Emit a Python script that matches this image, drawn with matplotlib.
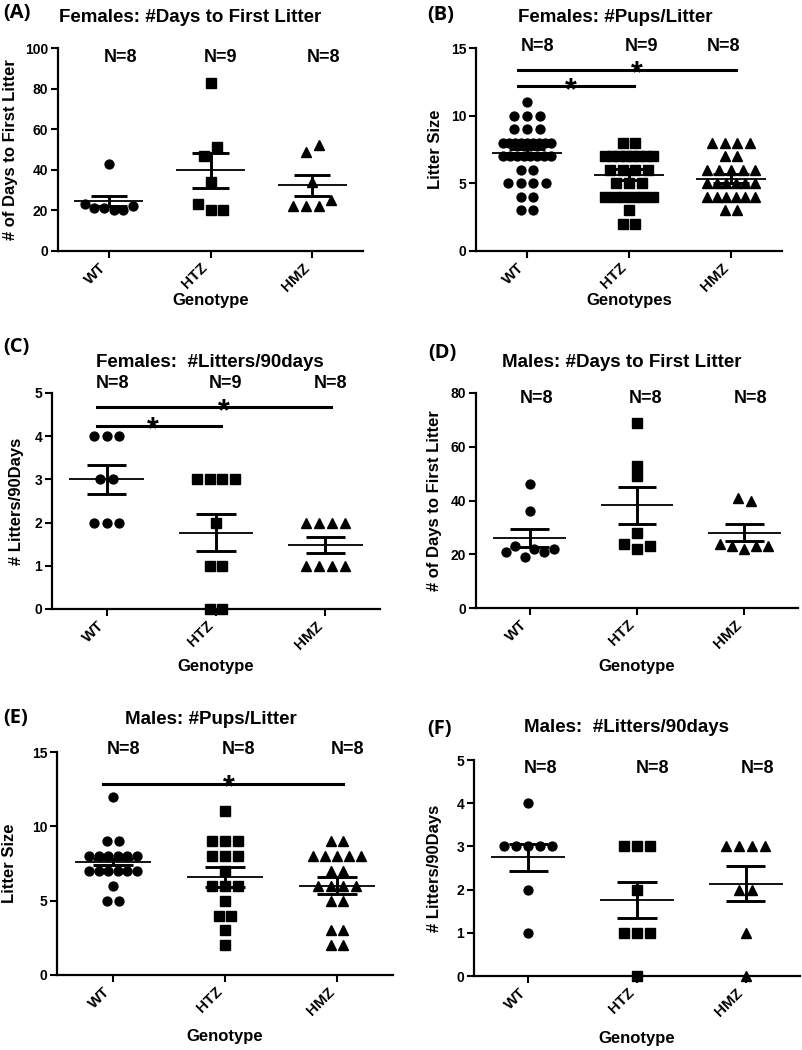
import numpy as np
import matplotlib.pyplot as plt

plt.rcParams['font.family'] = ['Liberation Sans', 'DejaVu Sans']
plt.rcParams['font.weight'] = 'bold'

W_PX, H_PX = 802, 1050
groups = ['WT', 'HTZ', 'HMZ']

# (A) Females: #Days to First Litter
a_wt = [43, 23, 21, 21, 20, 20, 22]
a_htz = [83, 47, 51, 34, 23, 20, 20]
a_hmz = [49, 52, 34, 22, 22, 22, 25]
a_mean = [24.5, 39.7, 32.4]
a_sem = [2.5, 8.6, 5.1]
a_n = [8, 9, 8]

# (B) Females: #Pups/Litter
b_wt = [11, 10, 10, 10, 9, 9, 9, 8, 8, 8, 8, 8, 8, 8, 8, 8,
        7, 7, 7, 7, 7, 7, 7, 7, 6, 6, 5, 5, 5, 5, 4, 4, 3, 3]
b_htz = [8, 8, 7, 7, 7, 7, 7, 7, 7, 7, 6, 6, 6, 6, 5, 5, 5,
         4, 4, 4, 4, 4, 4, 3, 2, 2]
b_hmz = [8, 8, 8, 8, 7, 7, 6, 6, 6, 6, 6, 5, 5, 5, 5, 5, 5,
         4, 4, 4, 4, 4, 4, 3, 3]
b_mean = [7.25, 5.65, 5.35]
b_sem = [0.3, 0.43, 0.33]
b_n = [8, 9, 8]
b_sig = [(0, 1, 12.17, 0.43), (0, 2, 13.37, 1.08)]

# (C) Females: #Litters/90days
c_wt = [4, 4, 4, 3, 3, 2, 2, 2]
c_htz = [3, 3, 3, 3, 2, 1, 1, 0, 0]
c_hmz = [2, 2, 2, 2, 1, 1, 1, 1]
c_mean = [3.0, 1.77, 1.48]
c_sem = [0.33, 0.43, 0.19]
c_n = [8, 9, 8]
c_sig = [(0, 1, 4.24, 0.42), (0, 2, 4.67, 1.07)]

# (D) Males: #Days to First Litter
d_wt = [46, 36, 21, 23, 19, 22, 21, 22]
d_htz = [69, 53, 49, 28, 24, 22, 23]
d_hmz = [41, 40, 24, 23, 22, 23, 23]
d_mean = [26.1, 38.2, 28.0]
d_sem = [3.4, 6.9, 3.2]
d_n = [8, 8, 8]

# (E) Males: #Pups/Litter
e_wt = [12, 9, 9, 8, 8, 8, 8, 8, 8, 7, 7, 7, 7, 7, 7, 6, 5, 5]
e_htz = [11, 9, 9, 9, 8, 8, 8, 7, 6, 6, 6, 5, 4, 4, 3, 2]
e_hmz = [9, 9, 8, 8, 8, 8, 8, 7, 7, 6, 6, 6, 6, 5, 5, 3, 3, 2, 2]
e_mean = [7.6, 6.6, 6.0]
e_sem = [0.22, 0.67, 0.56]
e_n = [8, 8, 8]
e_sig = [(0, 2, 12.86, 1.03)]

# (F) Males: #Litters/90days
f_wt = [4, 3, 3, 3, 3, 3, 2, 1]
f_htz = [3, 3, 3, 2, 1, 1, 1, 0]
f_hmz = [3, 3, 3, 3, 2, 2, 1, 0]
f_mean = [2.75, 1.76, 2.14]
f_sem = [0.31, 0.41, 0.40]
f_n = [8, 8, 8]

panels = [
    dict(tag='(A)', title='Females: #Days to First Litter', ylabel='# of Days to First Litter',
         xlabel='Genotype', data=[a_wt, a_htz, a_hmz], mean=a_mean, sem=a_sem, n=a_n, sig=[],
         yticks=np.arange(0, 101, 20), box=(58, 363, 48, 251), tag_xy=(3, 13), title_xy=(190, 17),
         ylab_x=11, xlab_y=300, n_y=95.5, n_dx=[0.11, 0.10, 0.11]),
    dict(tag='(B)', title='Females: #Pups/Litter', ylabel='Litter Size',
         xlabel='Genotypes', data=[b_wt, b_htz, b_hmz], mean=b_mean, sem=b_sem, n=b_n, sig=b_sig,
         yticks=[0, 5, 10, 15], box=(476, 782, 48, 251), tag_xy=(427, 15), title_xy=(615, 17),
         ylab_x=435, xlab_y=300, n_y=15.1, n_dx=[0.10, 0.12, -0.07]),
    dict(tag='(C)', title='Females:  #Litters/90days', ylabel='# Litters/90Days',
         xlabel='Genotype', data=[c_wt, c_htz, c_hmz], mean=c_mean, sem=c_sem, n=c_n, sig=c_sig,
         yticks=np.arange(0, 6), box=(52, 380, 393, 609), tag_xy=(3, 347), title_xy=(210, 362),
         ylab_x=17, xlab_y=666, n_y=5.23, n_dx=[0.05, 0.09, 0.05]),
    dict(tag='(D)', title='Males: #Days to First Litter', ylabel='# of Days to First Litter',
         xlabel='Genotype', data=[d_wt, d_htz, d_hmz], mean=d_mean, sem=d_sem, n=d_n, sig=[],
         yticks=np.arange(0, 81, 20), box=(476, 798, 393, 608), tag_xy=(428, 353), title_xy=(622, 362),
         ylab_x=435, xlab_y=666, n_y=77.9, n_dx=[0.06, 0.08, 0.06]),
    dict(tag='(E)', title='Males: #Pups/Litter', ylabel='Litter Size',
         xlabel='Genotype', data=[e_wt, e_htz, e_hmz], mean=e_mean, sem=e_sem, n=e_n, sig=e_sig,
         yticks=[0, 5, 10, 15], box=(57, 393, 752, 975), tag_xy=(3, 718), title_xy=(211, 719),
         ylab_x=10, xlab_y=1037, n_y=15.2, n_dx=[0.09, 0.12, 0.09]),
    dict(tag='(F)', title='Males:  #Litters/90days', ylabel='# Litters/90Days',
         xlabel='Genotype', data=[f_wt, f_htz, f_hmz], mean=f_mean, sem=f_sem, n=f_n, sig=[],
         yticks=np.arange(0, 6), box=(474, 800, 760, 976), tag_xy=(427, 729), title_xy=(627, 728),
         ylab_x=435, xlab_y=1038, n_y=4.8, n_dx=[0.11, 0.14, 0.11]),
]

markers = ['o', 's', '^']
msizes = [6.4, 6.8, 6.6]


def fx(px):
    return px / W_PX


def fy(py):
    return 1 - py / H_PX


def swarm(values, center, ax, gap=12.8, width=48, join=10):
    # points closer than `join` px vertically are laid out as one centred row
    x0, x1 = ax.get_xlim()
    y0, y1 = ax.get_ylim()
    pos = ax.get_position()
    sx = pos.width * W_PX / (x1 - x0)
    sy = pos.height * H_PX / (y1 - y0)
    vals = np.asarray(values, float)
    order = np.argsort(-vals, kind='stable')
    rows = []
    for i in order:
        if rows and (vals[rows[-1][-1]] - vals[i]) * sy < join:
            rows[-1].append(i)
        else:
            rows.append([i])
    xs = np.zeros(len(vals))
    for r in rows:
        r = sorted(r)
        n = len(r)
        if n < 2:
            continue
        step = min(gap, width / (n - 1))
        xs[r] = (np.arange(n) - (n - 1) / 2) * step / sx
    return center + xs, vals


fig = plt.figure(figsize=(W_PX / 100, H_PX / 100), dpi=100)

for p in panels:
    l, r, t, b = p['box']
    ax = fig.add_axes([fx(l), fy(b), fx(r) - fx(l), fy(t) - fy(b)])
    ax.set_xlim(-0.5, 2.5)
    ax.set_ylim(0, p['yticks'][-1])
    for s in ['top', 'right']:
        ax.spines[s].set_visible(False)
    for s in ['left', 'bottom']:
        ax.spines[s].set_linewidth(1.6)
    ax.tick_params(direction='out', length=5, width=1.5, labelsize=10, pad=2)
    ax.set_yticks(p['yticks'])
    ax.set_xticks(range(3))
    ax.set_xticklabels(groups, rotation=45, ha='right', va='top', fontsize=11, fontweight='bold')
    for lab in ax.get_yticklabels():
        lab.set_fontweight('bold')

    for i, vals in enumerate(p['data']):
        x, y = swarm(vals, i, ax)
        ax.plot(x, y, ls='none', marker=markers[i], ms=msizes[i], color='black',
                mec='black', clip_on=False, zorder=3)
        m, e = p['mean'][i], p['sem'][i]
        ax.hlines(m, i - 0.34, i + 0.34, color='black', lw=1.3, zorder=4)
        ax.hlines([m - e, m + e], i - 0.18, i + 0.18, color='black', lw=2.1, zorder=4)
        ax.vlines(i, m - e, m + e, color='black', lw=2.1, zorder=4)
        ax.text(i + p['n_dx'][i], p['n_y'], 'N=%d' % p['n'][i], ha='center', va='center',
                fontsize=13, fontweight='bold', clip_on=False)

    for g0, g1, ys, xs in p['sig']:
        ax.plot([g0 - 0.09, g1 + 0.05], [ys, ys], color='black', lw=2.2, clip_on=False)
        ax.annotate('*', xy=(xs, ys), xytext=(0, -9), textcoords='offset points',
                    ha='center', va='baseline', fontsize=22, fontweight='bold')

    fig.text(fx(p['title_xy'][0]), fy(p['title_xy'][1]), p['title'], ha='center', va='center',
             fontsize=13.5, fontweight='bold')
    fig.text(fx(p['tag_xy'][0]), fy(p['tag_xy'][1]), p['tag'], ha='left', va='center',
             fontsize=14.5, fontweight='bold', family=['Open Sans', 'DejaVu Sans'])
    fig.text(fx(p['ylab_x']), fy((t + b) / 2), p['ylabel'], rotation=90, ha='center', va='center',
             fontsize=12, fontweight='bold')
    fig.text(fx((l + r) / 2), fy(p['xlab_y']), p['xlabel'], ha='center', va='center',
             fontsize=12, fontweight='bold')

fig.savefig('out.png', dpi=100)
